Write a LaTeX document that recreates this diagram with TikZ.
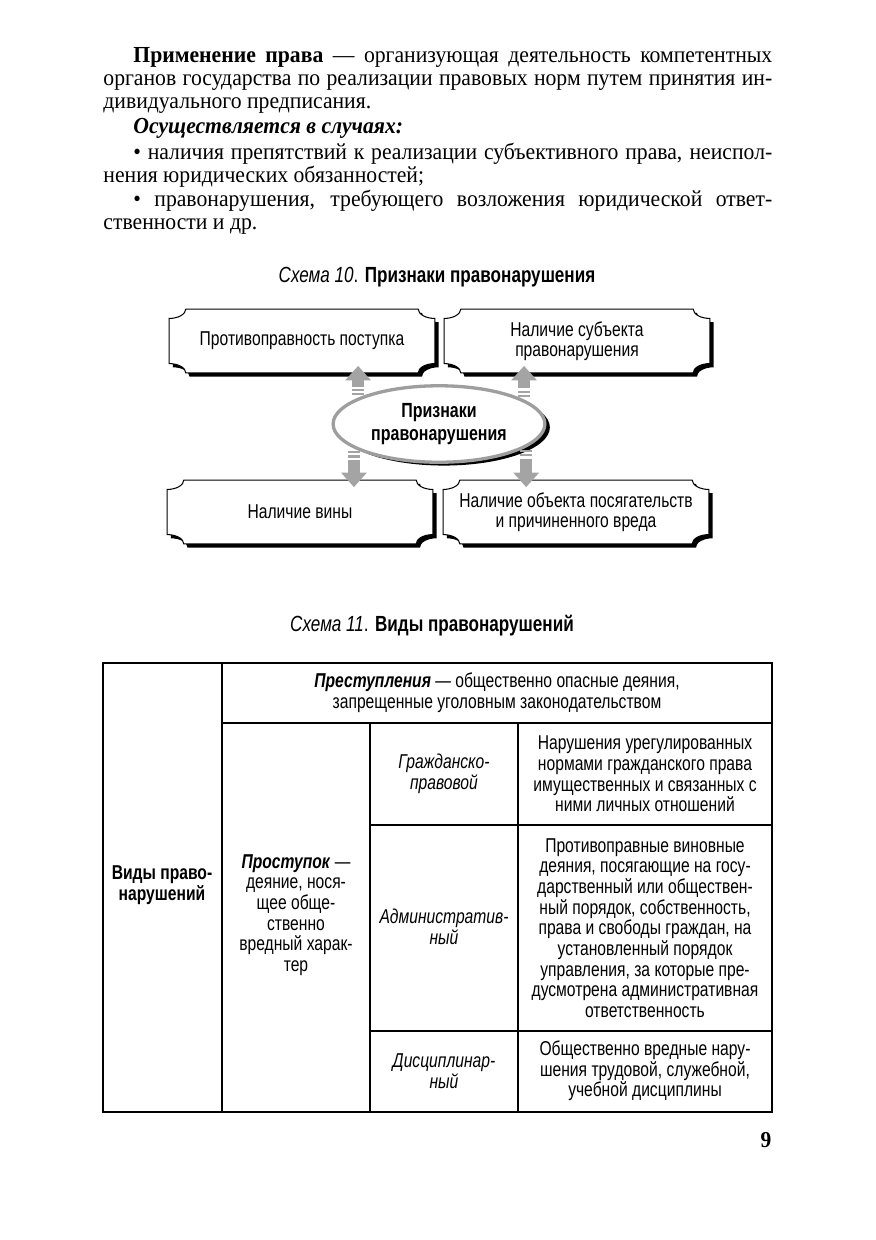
\documentclass[tikz,border=0pt]{standalone}
\usepackage{fontspec}
\setmainfont{Liberation Serif}[FakeStretch=0.945]
\newfontfamily\condsans[FakeStretch=0.78]{Liberation Sans}
\usetikzlibrary{arrows.meta,positioning,calc,shapes.geometric,backgrounds,shadows}
\definecolor{arrGray}{HTML}{A4A4A4}
\definecolor{ovalGray}{HTML}{9E9E9E}
\newlength{\bodyw}\setlength{\bodyw}{11.37cm}
\newcommand{\jline}[1]{\makebox[\bodyw][s]{#1}}
\newcommand{\cellsize}{\fontsize{9.7}{10}\selectfont}
\newcommand{\notchx}{8pt}
\newcommand{\notchy}{4.5pt}
% outline of a sign box with cut-in corners
\newcommand{\signpath}[1]{%
  ($(#1.north west)+(\notchx,0pt)$) -- ($(#1.north east)+(-\notchx,0pt)$)
  .. controls ($(#1.north east)+(-\notchx,-0.55*\notchy)$) and ($(#1.north east)+(-0.55*\notchx,-\notchy)$) .. ($(#1.north east)+(0pt,-\notchy)$)
  -- ($(#1.south east)+(0pt,\notchy)$)
  .. controls ($(#1.south east)+(-0.55*\notchx,\notchy)$) and ($(#1.south east)+(-\notchx,0.55*\notchy)$) .. ($(#1.south east)+(-\notchx,0pt)$)
  -- ($(#1.south west)+(\notchx,0pt)$)
  .. controls ($(#1.south west)+(\notchx,0.55*\notchy)$) and ($(#1.south west)+(0.55*\notchx,\notchy)$) .. ($(#1.south west)+(0pt,\notchy)$)
  -- ($(#1.north west)+(0pt,-\notchy)$)
  .. controls ($(#1.north west)+(0.55*\notchx,-\notchy)$) and ($(#1.north west)+(\notchx,-0.55*\notchy)$) .. cycle}
\tikzset{
  bodyline/.style={anchor=base west, inner sep=0pt, font=\fontsize{11.1}{11.1}\selectfont},
  caption/.style={inner sep=0pt, font=\condsans\fontsize{10.6}{12}\selectfont},
  signbox/.style={minimum width=4.5cm, minimum height=1.07cm, align=center, inner sep=2pt, font=\condsans\fontsize{9.7}{9.7}\selectfont},
  signoval/.style={ellipse, draw=ovalGray, fill=white, line width=1.6pt, minimum width=3.6cm, minimum height=1.3cm, align=center, inner sep=1pt, font=\condsans\bfseries\fontsize{9.9}{11}\selectfont, drop shadow={shadow xshift=2.4pt, shadow yshift=-1.6pt, fill=black, opacity=1}},
  grayarr/.style={-{Triangle[length=7pt,width=12pt]}, line width=5.8pt, draw=arrGray, dash pattern=on 0pt off 1.4pt on 1pt off 1pt on 1pt off 1pt on 60pt, shorten >=-3.4pt},
  cell/.style={align=center, inner sep=0pt, font=\condsans\cellsize},
  cellbold/.style={cell, font=\condsans\bfseries\cellsize},
  celltype/.style={cell, font=\condsans\itshape\cellsize},
  thickrule/.style={line width=0.9pt, line cap=rect},
  thinrule/.style={line width=0.55pt, line cap=rect}
}
\begin{document}
\begin{tikzpicture}[x=0.017cm,y=-0.017cm]
  \useasboundingbox (0,0) rectangle (876,1240);
  % text above the schemes
  \node[bodyline] (defn1) at (103,62) {\jline{\hspace*{14.5pt}\textbf{Применение права} — организующая деятельность компетентных}};
  \node[bodyline] (defn2) at (103,85) {\jline{органов государства по реализации правовых норм путем принятия ин-}};
  \node[bodyline] (defn3) at (103,108) {дивидуального предписания.};
  \node[bodyline] (cases) at (103,133) {\hspace*{14.5pt}\textbf{\textit{Осуществляется в случаях:}}};
  \node[bodyline] (case1a) at (103,159) {\jline{\hspace*{14.5pt}• наличия препятствий к реализации субъективного права, неиспол-}};
  \node[bodyline] (case1b) at (103,182) {нения юридических обязанностей;};
  \node[bodyline] (case2a) at (103,206) {\jline{\hspace*{14.5pt}• правонарушения, требующего возложения юридической ответ-}};
  \node[bodyline] (case2b) at (103,229) {ственности и др.};

  % scheme 10
  \node[caption] (cap10) at (437,277) {\textit{Схема 10}. \textbf{Признаки правонарушения}};
  \node[signbox] (viol) at (302,341) {Противоправность поступка};
  \node[signbox] (subj) at (577,341) {Наличие субъекта\\правонарушения};
  \node[signbox] (vina) at (300,512) {Наличие вины};
  \node[signbox] (obj) at (576,512) {Наличие объекта посягательств\\и причиненного вреда};
  \begin{scope}[on background layer]
    \foreach \bx in {viol,subj,vina,obj}{
      \fill[black, transform canvas={shift={(1.8pt,-1.8pt)}}] \signpath{\bx};
      \filldraw[fill=white, draw=black, line width=0.5pt] \signpath{\bx};
    }
  \end{scope}
  \node[signoval] (sign) at (439,424) {Признаки\\правонарушения};
  \draw[grayarr] (sign.162) -- (sign.162 |- viol.south);
  \draw[grayarr] (sign.16) -- (sign.16 |- subj.south);
  \draw[grayarr] (sign.196) -- (sign.196 |- vina.north);
  \draw[grayarr] (sign.345) -- (sign.345 |- obj.north);

  % scheme 11
  \node[caption] (cap11) at (432,626) {\textit{Схема 11}. \textbf{Виды правонарушений}};
  \draw[thickrule] (103,663) -- (772,663);
  \draw[thickrule] (103,1112) -- (772,1112);
  \draw[thinrule] (103,663) -- (103,1112);
  \draw[thinrule] (772,663) -- (772,1112);
  \draw[thickrule] (222,663) -- (222,1112);
  \draw[thinrule] (222,723) -- (772,723);
  \draw[thinrule] (370,723) -- (370,1112);
  \draw[thickrule] (518,723) -- (518,1112);
  \draw[thinrule] (370,825) -- (772,825);
  \draw[thickrule] (370,1031) -- (772,1031);
  \node[cellbold] (kind) at (162,885) {Виды право-\\нарушений};
  \node[cell] (crime) at (497,693) {\textbf{\textit{Преступления}} — общественно опасные деяния,\\запрещенные уголовным законодательством};
  \node[cell] (offence) at (296,915) {\textbf{\textit{Проступок}} —\\деяние, нося-\\щее обще-\\ственно\\вредный харак-\\тер};
  \node[celltype] (civil) at (444,774) {Гражданско-\\правовой};
  \node[celltype] (admin) at (444,927) {Административ-\\ный};
  \node[celltype] (disc) at (444,1071) {Дисциплинар-\\ный};
  \node[cell] (civilText) at (645,774) {Нарушения урегулированных\\нормами гражданского права\\имущественных и связанных с\\ними личных отношений};
  \node[cell] (adminText) at (645,928) {Противоправные виновные\\деяния, посягающие на госу-\\дарственный или обществен-\\ный порядок, собственность,\\права и свободы граждан, на\\установленный порядок\\управления, за которые пре-\\дусмотрена административная\\ответственность};
  \node[cell] (discText) at (645,1071) {Общественно вредные нару-\\шения трудовой, служебной,\\учебной дисциплины};

  \node[inner sep=0pt, font=\bfseries\fontsize{11}{12}\selectfont] (pnum) at (766,1140) {9};
\end{tikzpicture}
\end{document}
